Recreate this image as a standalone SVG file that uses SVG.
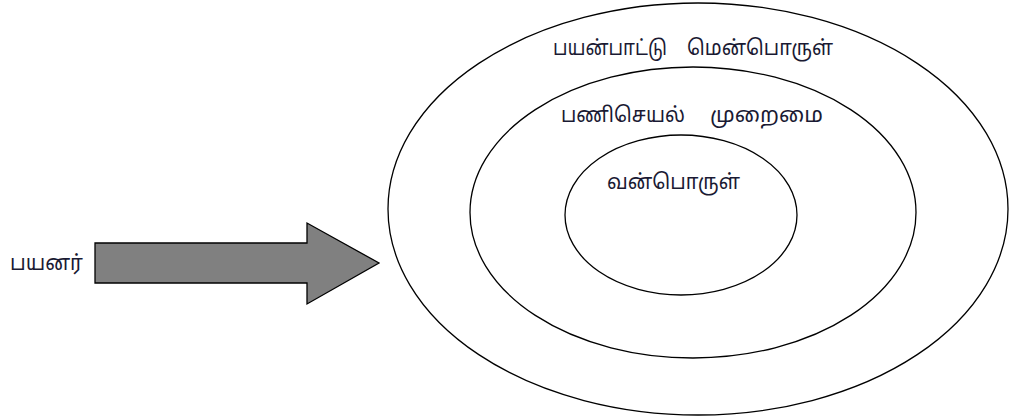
<svg xmlns="http://www.w3.org/2000/svg" width="1009" height="419" viewBox="0 0 1009 419">
<style>
.ring{fill:none;stroke:#000;stroke-width:1.3}
.lbl{font-family:"Noto Sans Tamil","Lohit Tamil","Noto Sans","DejaVu Sans",sans-serif;font-size:21px;fill:#1a1a33}
</style>
<rect width="1009" height="419" fill="#fff"/>
<g id="outer">
<ellipse class="ring" cx="698" cy="209" rx="310" ry="206"/>
<text class="lbl" x="553" y="55" textLength="114" lengthAdjust="spacingAndGlyphs">பயன்பாட்டு</text>
<text class="lbl" x="687" y="55" textLength="146" lengthAdjust="spacingAndGlyphs">மென்பொருள்</text>
</g>
<g id="middle">
<ellipse class="ring" cx="693" cy="212.5" rx="223" ry="145.5"/>
<text class="lbl" x="561" y="122" textLength="124" lengthAdjust="spacingAndGlyphs">பணிசெயல்</text>
<text class="lbl" x="710" y="122" textLength="113" lengthAdjust="spacingAndGlyphs">முறைமை</text>
</g>
<g id="inner">
<ellipse class="ring" cx="681" cy="215" rx="116" ry="80"/>
<text class="lbl" x="607" y="189" textLength="133" lengthAdjust="spacingAndGlyphs">வன்பொருள்</text>
</g>
<g id="user">
<text class="lbl" x="10" y="270" textLength="73" lengthAdjust="spacingAndGlyphs">பயனர்</text>
</g>
<g id="connectors">
<polygon points="95,243 307,243 307,223 379,263 307,304 307,283 95,283" fill="#808080" stroke="#000" stroke-width="1.3"/>
</g>
</svg>
